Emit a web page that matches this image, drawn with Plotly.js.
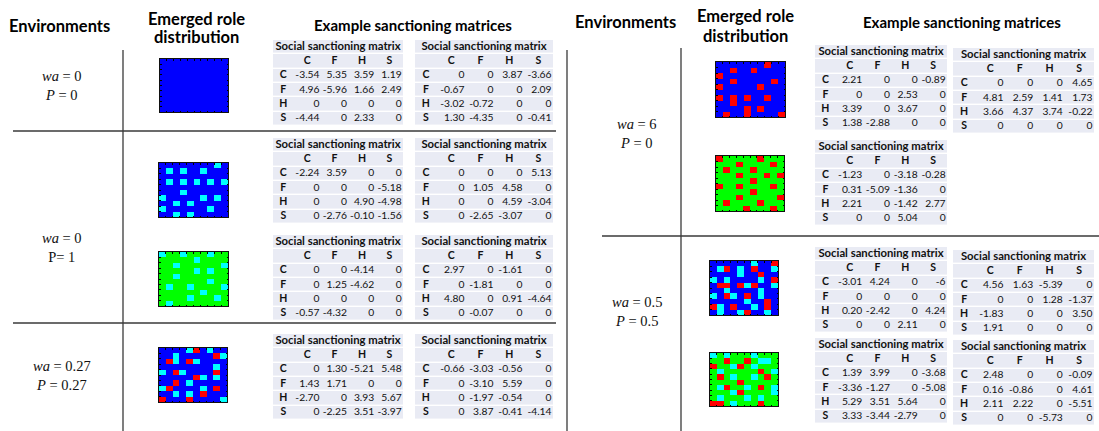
<!DOCTYPE html>
<html>
<head>
<meta charset="utf-8">
<script src="https://cdn.plot.ly/plotly-3.0.1.min.js"></script>
<style>html,body{margin:0;padding:0;background:#fff;}#chart{width:1099px;height:431px;}</style>
</head>
<body>
<div id="chart"></div>
<script>
// ---------------- DATA ----------------
const roleLabels = ['C', 'F', 'H', 'S'];
const tableTitle = 'Social sanctioning matrix';

// Social sanctioning matrices (rows C,F,H,S ; columns C,F,H,S)
const matL1a = [[-3.54, 5.35, 3.59, 1.19], [4.96, -5.96, 1.66, 2.49], [0, 0, 0, 0], [-4.44, 0, 2.33, 0]];
const matL1b = [[0, 0, 3.87, -3.66], [-0.67, 0, 0, 2.09], [-3.02, -0.72, 0, 0], [1.30, -4.35, 0, -0.41]];
const matL2a = [[-2.24, 3.59, 0, 0], [0, 0, 0, -5.18], [0, 0, 4.90, -4.98], [0, -2.76, -0.10, -1.56]];
const matL2b = [[0, 0, 0, 5.13], [0, 1.05, 4.58, 0], [0, 0, 4.59, -3.04], [0, -2.65, -3.07, 0]];
const matL3a = [[0, 0, -4.14, 0], [0, 1.25, -4.62, 0], [0, 0, 0, 0], [-0.57, -4.32, 0, 0]];
const matL3b = [[2.97, 0, -1.61, 0], [0, -1.81, 0, 0], [4.80, 0, 0.91, -4.64], [0, -0.07, 0, 0]];
const matL4a = [[0, 1.30, -5.21, 5.48], [1.43, 1.71, 0, 0], [-2.70, 0, 3.93, 5.67], [0, -2.25, 3.51, -3.97]];
const matL4b = [[-0.66, -3.03, -0.56, 0], [0, -3.10, 5.59, 0], [0, -1.97, -0.54, 0], [0, 3.87, -0.41, -4.14]];
const matR1a = [[2.21, 0, 0, -0.89], [0, 0, 2.53, 0], [3.39, 0, 3.67, 0], [1.38, -2.88, 0, 0]];
const matR1b = [[0, 0, 0, 4.65], [4.81, 2.59, 1.41, 1.73], [3.66, 4.37, 3.74, -0.22], [0, 0, 0, 0]];
const matR2a = [[-1.23, 0, -3.18, -0.28], [0.31, -5.09, -1.36, 0], [2.21, 0, -1.42, 2.77], [0, 0, 5.04, 0]];
const matR3a = [[-3.01, 4.24, 0, -6], [0, 0, 0, 0], [0.20, -2.42, 0, 4.24], [0, 0, 2.11, 0]];
const matR3b = [[4.56, 1.63, -5.39, 0], [0, 0, 1.28, -1.37], [-1.83, 0, 0, 3.50], [1.91, 0, 0, 0]];
const matR4a = [[1.39, 3.99, 0, -3.68], [-3.36, -1.27, 0, -5.08], [5.29, 3.51, 5.64, 0], [3.33, -3.44, -2.79, 0]];
const matR4b = [[2.48, 0, 0, -0.09], [0.16, -0.86, 0, 4.61], [2.11, 2.22, 0, -5.51], [0, 0, -5.73, 0]];

// Emerged role distributions (10x10): B=blue, G=green, C=cyan, R=red
const gridL1 = ['BBBBBBBBBB','BBBBBBBBBB','BBBBBBBBBB','BBBBBBBBBB','BBBBBBBBBB','BBBBBBBBBB','BBBBBBBBBB','BBBBBBBBBB','BBBBBBBBBB','BBBBBBBBBB'];
const gridL2 = ['BBBBBBBBCB','BCBCBBCBBB','BBBBBBBBBB','BCBCBCBCBC','BBBBBBBBBB','BBBCBBBBBB','CBBBBBCBCB','BBCBCBBBBB','CBBBBBBCBB','BBCBCBBBBB'];
const gridL3 = ['CGGCGGGCGG','GGGGGCGGGG','GGCGGGGGGC','GGGGGCGCGG','GGCGGGGGGG','GGGGGGGCGG','GCGGCGGGGC','GGGGGGCGGG','GGGGCGGGCG','GCGGGGGGGG'];
const gridL4 = ['BBBBCRBCBB','BBCBBBBBRC','BRCBRCBBBB','BBBBBBBBCB','CBRCBBBBRB','BBBBBRCBCB','BBRBCBBBBB','CRBBBBCBRB','BBCBCBRBBB','RBBBRBBBBC'];
const gridR1 = ['BBBBBBBRBB','BBRBBRBBBB','RBBBBBBBBB','BBRBBBBBRB','RBBBBBRBBB','BBBBBBBBBB','RBRBRBBRBB','BBRBBBBBBB','BBBBRBRBBB','BRBBRBBBBR'];
const gridR2 = ['RGGGGGRGGG','GGGRGGGGRG','GRGGGRGGGG','GGGRGGGRGR','GGGGGRGGGG','RGGRGGGGRG','GGGGGRGGGG','GGGRGGGGGR','GRGGGGRGGG','GGGGRGGGRG'];
const gridR3 = ['BBBBBBCBBR','BCRBCBRBBC','BBBBCBBRBB','CBCBBBBCBR','BRRBRCRBBC','BBCBBBBCBB','CBRCBRBCBB','BBBBBCBBRB','RCBRBBCBRB','BCBBCRBBCB'];
const gridR4 = ['CGCGGGCGGG','GGRGGRGCCG','RGGCRGCGGG','GCGGGGGRGC','GRGCGGCGRG','GGGGRGGGGG','GCRGGCGRGC','GGGCRGGGGC','GCGGGCGCGG','RRGCGGGRGG'];

// Environment labels
const envLabels = [
  ['<i>wa</i> = 0', '<i>P</i> = 0'],
  ['<i>wa</i> = 0', 'P= 1'],
  ['<i>wa</i> = 0.27', '<i>P</i> = 0.27'],
  ['<i>wa</i> = 6', '<i>P</i> = 0'],
  ['<i>wa</i> = 0.5', '<i>P</i> = 0.5']
];

// ---------------- LAYOUT HELPERS ----------------
const FW = 1099, FH = 431;
const fx = p => p / FW;
const fy = p => 1 - p / FH;
const SANS = 'Lato, "Open Sans", sans-serif';
const SERIF = '"Liberation Serif", "DejaVu Serif", serif';

const traces = [];
const layout = {
  width: FW, height: FH,
  margin: {l: 0, r: 0, t: 0, b: 0},
  paper_bgcolor: '#ffffff', plot_bgcolor: 'rgba(0,0,0,0)',
  showlegend: false, hovermode: false,
  shapes: [], annotations: []
};
let axN = 0;
function newAxes(x0, x1, y0, y1, xa, ya) {
  axN++;
  const sfx = axN === 1 ? '' : String(axN);
  layout['xaxis' + sfx] = Object.assign({domain: [fx(x0), fx(x1)], anchor: 'y' + sfx, fixedrange: true}, xa);
  layout['yaxis' + sfx] = Object.assign({domain: [fy(y1), fy(y0)], anchor: 'x' + sfx, fixedrange: true}, ya);
  return {x: 'x' + sfx, y: 'y' + sfx};
}

// ---------------- GRIDS ----------------
const roleCode = {B: 0, G: 1, C: 2, R: 3};
function addGrid(grid, x0, x1, y0, y1) {
  const n = grid[0].length, m = grid.length;
  const axStyle = {showgrid: false, zeroline: false, showticklabels: false, ticks: 'inside', ticklen: 1.5,
    tickcolor: '#000', tickwidth: 1, dtick: 1, tick0: -0.5, showline: true, linecolor: '#111', linewidth: 1, mirror: 'ticks'};
  const ax = newAxes(x0, x1, y0, y1,
    Object.assign({range: [-0.5, n - 0.5]}, axStyle),
    Object.assign({range: [m - 0.5, -0.5]}, axStyle));
  traces.push({
    type: 'heatmap', xaxis: ax.x, yaxis: ax.y,
    z: grid.map(row => row.split('').map(ch => roleCode[ch])),
    zmin: 0, zmax: 3, showscale: false, hoverinfo: 'skip',
    colorscale: [[0, '#0000ff'], [1/3, '#00ff00'], [2/3, '#00ffff'], [1, '#ff0000']]
  });
}
addGrid(gridL1, 160, 228, 59, 112);
addGrid(gridL2, 159, 228, 163, 217);
addGrid(gridL3, 159, 228, 252, 306);
addGrid(gridL4, 159, 227, 348, 402);
addGrid(gridR1, 716, 785, 62, 117);
addGrid(gridR2, 716, 784, 156, 211);
addGrid(gridR3, 710, 778, 261, 315);
addGrid(gridR4, 710, 778, 353, 406);

// ---------------- TABLES ----------------
const LBL = 0.75;          // relative width of the row-label column
const ROWH = 14.3;         // pixel height of a table row
function fmt(v) {
  if (v === 0) return '0';
  if (Number.isInteger(v)) return String(v);
  return v.toFixed(2);
}
function addTable(mat, x0, w, top) {
  const nRows = mat.length + 2;
  const totalU = LBL + roleLabels.length;
  const ax = newAxes(x0, x0 + w, top, top + nRows * ROWH,
    {range: [0, totalU], visible: false},
    {range: [nRows - 0.5, -0.5], visible: false});
  const xEdges = [0, LBL].concat(roleLabels.map((_, j) => LBL + j + 1));
  const z = [];
  for (let i = 0; i < nRows; i++) z.push(roleLabels.map(() => 0).concat([0]));
  traces.push({
    type: 'heatmap', xaxis: ax.x, yaxis: ax.y,
    x: xEdges, y: Array.from({length: nRows}, (_, i) => i), z: z,
    zmin: 0, zmax: 1, showscale: false, hoverinfo: 'skip', ygap: 1.4, xgap: 0,
    colorscale: [[0, '#e9ebf4'], [1, '#e9ebf4']]
  });
  const xs = [], ys = [], txt = [], pos = [], sz = [];
  xs.push(totalU / 2); ys.push(0); txt.push('<b>' + tableTitle + '</b>'); pos.push('middle center'); sz.push(11.3);
  roleLabels.forEach((r, j) => { xs.push(LBL + j + 0.5); ys.push(1); txt.push('<b>' + r + '</b>'); pos.push('middle center'); sz.push(10.5); });
  mat.forEach((row, i) => {
    xs.push(LBL / 2); ys.push(i + 2); txt.push('<b>' + roleLabels[i] + '</b>'); pos.push('middle center'); sz.push(10.5);
    row.forEach((v, j) => { xs.push(LBL + j + 1 - 0.05); ys.push(i + 2); txt.push(fmt(v)); pos.push('middle left'); sz.push(10.3); });
  });
  traces.push({
    type: 'scatter', mode: 'text', xaxis: ax.x, yaxis: ax.y, cliponaxis: false,
    x: xs, y: ys, text: txt, textposition: pos, hoverinfo: 'skip',
    textfont: {family: SANS, size: sz, color: '#111'}
  });
}
addTable(matL1a, 273, 130, 40);
addTable(matL1b, 415, 138, 40);
addTable(matL2a, 273, 130, 138);
addTable(matL2b, 415, 138, 138);
addTable(matL3a, 273, 130, 235);
addTable(matL3b, 415, 138, 235);
addTable(matL4a, 273, 130, 334);
addTable(matL4b, 415, 138, 334);
addTable(matR1a, 815, 132, 45);
addTable(matR1b, 953, 141, 48);
addTable(matR2a, 815, 132, 140);
addTable(matR3a, 815, 132, 247);
addTable(matR3b, 953, 141, 250);
addTable(matR4a, 815, 132, 338);
addTable(matR4b, 953, 141, 340);

// ---------------- LINES ----------------
function line(x0, y0, x1, y1, w) {
  layout.shapes.push({type: 'line', xref: 'paper', yref: 'paper', x0: fx(x0), x1: fx(x1), y0: fy(y0), y1: fy(y1),
    line: {color: '#3a3a3a', width: w}});
}
line(123, 50, 123, 431, 1.3);
line(13, 131, 556, 131, 1.6);
line(13, 323, 556, 323, 1.6);
line(567, 50, 567, 431, 1.3);
line(681, 48, 681, 431, 1.3);
line(602, 236, 1099, 236, 1.6);

// ---------------- TEXT ----------------
function label(text, x, y, font) {
  layout.annotations.push({text: text, x: fx(x), y: fy(y), xref: 'paper', yref: 'paper', showarrow: false,
    xanchor: 'center', yanchor: 'middle', font: font, borderpad: 0});
}
const hFont = {family: SANS, size: 16.5, color: '#000'};
const hFont2 = {family: SANS, size: 15, color: '#000'};
label('<b>Environments</b>', 59, 26, hFont);
label('<b>Emerged role</b>', 196, 19, hFont);
label('<b>distribution</b>', 196, 37, hFont);
label('<b>Example sanctioning matrices</b>', 413, 25, hFont2);
label('<b>Environments</b>', 625, 22, hFont);
label('<b>Emerged role</b>', 745, 16, hFont);
label('<b>distribution</b>', 745, 36, hFont);
label('<b>Example sanctioning matrices</b>', 962, 22, hFont2);

const mFont = {family: SERIF, size: 14.5, color: '#111'};
const envPos = [[62, 86], [62, 247], [62, 375], [637, 134], [637, 311]];
envLabels.forEach((lab, i) => {
  label(lab[0] + '<br>' + lab[1], envPos[i][0], envPos[i][1], mFont);
});

Plotly.newPlot('chart', traces, layout, {staticPlot: true, displayModeBar: false});
</script>
</body>
</html>
